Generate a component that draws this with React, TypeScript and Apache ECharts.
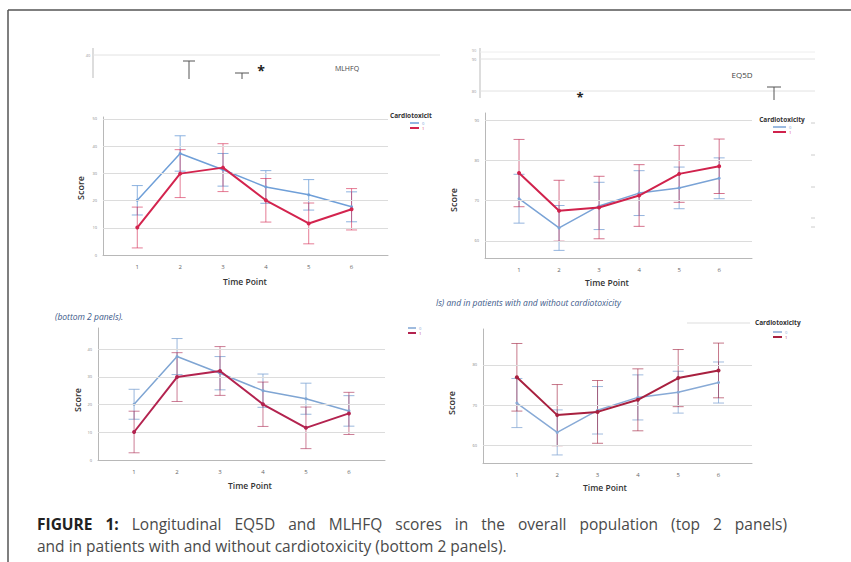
import React, { useEffect, useRef } from "react";
import * as echarts from "echarts";

const timePoints = [1, 2, 3, 4, 5, 6];
const groups = ["0", "1"];
const mlhfqNo = [20.1, 37.3, 31.3, 25.0, 22.1, 17.7];
const mlhfqNoErr = [5.4, 6.5, 6.0, 6.0, 5.6, 5.5];
const mlhfqYes = [10.1, 29.9, 32.1, 20.1, 11.6, 16.8];
const mlhfqYesErr = [7.5, 8.8, 8.8, 8.0, 7.5, 7.6];
const eq5dNo = [70.5, 63.2, 68.7, 71.9, 73.2, 75.6];
const eq5dNoErr = [6.1, 5.6, 5.9, 5.6, 5.2, 5.1];
const eq5dYes = [76.9, 67.5, 68.3, 71.3, 76.7, 78.6];
const eq5dYesErr = [8.4, 7.6, 7.8, 7.7, 7.1, 6.8];
const mlhfqTicks = [0, 10, 20, 30, 40, 50];
const eq5dTicks = [60, 70, 80, 90];

const captionBold = "FIGURE 1:";
const captionLine1 = "Longitudinal EQ5D and MLHFQ scores in the overall population (top 2 panels)";
const captionLine2 = "and in patients with and without cardiotoxicity (bottom 2 panels).";

const FONT = "'Open Sans', 'Noto Sans', sans-serif";
const CAP_SIZE = 15.5;

type Panel = {
  left: number; top: number; width: number; height: number;
  xMin: number; xMax: number; yMin: number; yMax: number;
  ticks: number[]; grid: number[];
  no: number[]; noErr: number[]; yes: number[]; yesErr: number[];
  blue: string; red: string; blueErr: string; redErr: string;
  capW: number;
};

const panels: Panel[] = [
  {
    left: 103, top: 117, width: 285, height: 138, xMin: 0.2, xMax: 6.85, yMin: 0, yMax: 50.7,
    ticks: mlhfqTicks, grid: [10, 20, 30, 40, 50],
    no: mlhfqNo, noErr: mlhfqNoErr, yes: mlhfqYes, yesErr: mlhfqYesErr,
    blue: "#6f9fd8", red: "#d3244e", blueErr: "rgba(111,159,216,0.8)", redErr: "rgba(211,36,78,0.6)", capW: 11,
  },
  {
    left: 485, top: 113, width: 267, height: 145, xMin: 0.15, xMax: 6.82, yMin: 55.7, yMax: 91.9,
    ticks: eq5dTicks, grid: [60, 70, 80, 90],
    no: eq5dNo, noErr: eq5dNoErr, yes: eq5dYes, yesErr: eq5dYesErr,
    blue: "#7aa3d6", red: "#d0224c", blueErr: "rgba(122,163,214,0.8)", redErr: "rgba(190,40,80,0.65)", capW: 11,
  },
  {
    left: 98, top: 328, width: 287, height: 132, xMin: 0.16, xMax: 6.84, yMin: 0, yMax: 47.6,
    ticks: [0, 10, 20, 30, 40], grid: [10, 20, 30, 40],
    no: mlhfqNo, noErr: mlhfqNoErr, yes: mlhfqYes, yesErr: mlhfqYesErr,
    blue: "#7fa5d3", red: "#b3234f", blueErr: "rgba(127,165,211,0.8)", redErr: "rgba(170,40,80,0.6)", capW: 11,
  },
  {
    left: 483, top: 329, width: 269, height: 134, xMin: 0.16, xMax: 6.83, yMin: 55.6, yMax: 88.9,
    ticks: [60, 70, 80], grid: [60, 70, 80],
    no: eq5dNo, noErr: eq5dNoErr, yes: eq5dYes, yesErr: eq5dYesErr,
    blue: "#88aad6", red: "#a8203f", blueErr: "rgba(136,170,214,0.8)", redErr: "rgba(160,30,60,0.6)", capW: 11,
  },
];

function measure(t: string, weight: string): number {
  const c = document.createElement("canvas").getContext("2d");
  if (!c) return t.length * CAP_SIZE * 0.5;
  c.font = `${weight} ${CAP_SIZE}px 'Open Sans', 'Noto Sans', sans-serif`;
  return c.measureText(t).width;
}

function buildOption() {
  const grid: any[] = [];
  const xAxis: any[] = [];
  const yAxis: any[] = [];
  const series: any[] = [];
  panels.forEach((p, i) => {
    grid.push({ left: p.left, top: p.top, width: p.width, height: p.height, containLabel: false });
    xAxis.push({
      type: "value", gridIndex: i, min: p.xMin, max: p.xMax,
      axisLine: { show: true, lineStyle: { color: "#b8b8b8", width: 1 } },
      axisTick: { show: false }, splitLine: { show: false },
      axisLabel: { customValues: timePoints, fontSize: 6, color: "#666", margin: 9, fontFamily: FONT },
    });
    yAxis.push({
      type: "value", gridIndex: i, min: p.yMin, max: p.yMax,
      axisLine: { show: true, lineStyle: { color: "#b8b8b8", width: 1 } },
      axisTick: { show: false }, splitLine: { show: false },
      axisLabel: { customValues: p.ticks, fontSize: 4, color: "#888", margin: 6, fontFamily: FONT },
    });
    const errSeries = (vals: number[], errs: number[], color: string, z: number) => ({
      type: "custom", xAxisIndex: i, yAxisIndex: i, z,
      data: timePoints.map((t, k) => [t, vals[k] - errs[k], vals[k] + errs[k]]),
      encode: { x: 0, y: [1, 2] },
      renderItem: (params: any, api: any) => {
        const x = api.value(0);
        const lo = api.coord([x, api.value(1)]);
        const hi = api.coord([x, api.value(2)]);
        const w = p.capW / 2;
        const style = { stroke: color, lineWidth: 1 };
        return {
          type: "group",
          children: [
            { type: "line", shape: { x1: lo[0], y1: lo[1], x2: hi[0], y2: hi[1] }, style },
            { type: "line", shape: { x1: lo[0] - w, y1: lo[1], x2: lo[0] + w, y2: lo[1] }, style },
            { type: "line", shape: { x1: hi[0] - w, y1: hi[1], x2: hi[0] + w, y2: hi[1] }, style },
          ],
        };
      },
    });
    series.push({
      type: "line", xAxisIndex: i, yAxisIndex: i, z: 1, data: [], silent: true,
      markLine: {
        silent: true, symbol: "none", label: { show: false },
        lineStyle: { color: "#dcdcdc", type: "solid", width: 1 },
        data: p.grid.map((v) => ({ yAxis: v })),
      },
    });
    series.push(errSeries(p.no, p.noErr, p.blueErr, 3));
    series.push(errSeries(p.yes, p.yesErr, p.redErr, 3));
    series.push({
      type: "line", name: groups[0], xAxisIndex: i, yAxisIndex: i, z: 4,
      data: timePoints.map((t, k) => [t, p.no[k]]),
      symbol: "circle", symbolSize: 3, itemStyle: { color: p.blue },
      lineStyle: { color: p.blue, width: 1.5 },
    });
    series.push({
      type: "line", name: groups[1], xAxisIndex: i, yAxisIndex: i, z: 5,
      data: timePoints.map((t, k) => [t, p.yes[k]]),
      symbol: "circle", symbolSize: 4, itemStyle: { color: p.red },
      lineStyle: { color: p.red, width: 2 },
    });
  });

  const line = (x1: number, y1: number, x2: number, y2: number, stroke = "#ddd", lineWidth = 1) => ({
    type: "line", shape: { x1, y1, x2, y2 }, style: { stroke, lineWidth }, silent: true,
  });
  const text = (x: number, y: number, t: string, extra: any = {}, rotation = 0) => ({
    type: "text", x, y, rotation, silent: true,
    style: {
      text: t, fill: extra.fill || "#333", fontSize: extra.fontSize || 9,
      fontFamily: extra.fontFamily || FONT, fontWeight: extra.fontWeight || "normal",
      fontStyle: extra.fontStyle || "normal",
      align: extra.align || "center", verticalAlign: extra.verticalAlign || "middle",
    },
  });
  const legendItem = (x: number, y: number, color: string, label: string, w: number, lw: number) => [
    line(x, y, x + w, y, color, lw),
    text(x + w + 3, y, label, { fontSize: 4, align: "left", fill: color }),
  ];

  // justified first caption line
  const words = [
    ...captionBold.split(" ").map((w) => ({ w, bold: true })),
    ...captionLine1.split(" ").map((w) => ({ w, bold: false })),
  ];
  const widths = words.map((o) => measure(o.w, o.bold ? "bold" : "normal"));
  const total = widths.reduce((a, b) => a + b, 0);
  const xStart = 37, xEnd = 787;
  const gap = Math.max(4, (xEnd - xStart - total) / (words.length - 1));
  let cx = xStart;
  const captionWords: any[] = words.map((o, k) => {
    const el = text(cx, 524, o.w, {
      fontSize: CAP_SIZE, align: "left", fontWeight: o.bold ? "bold" : "normal",
      fill: o.bold ? "#222" : "#4a4a4a",
    });
    cx += widths[k] + gap;
    return el;
  });

  const graphic: any[] = [
    // frame
    line(8, 10, 851, 10, "#555", 1.5),
    line(8, 10, 8, 562, "#555", 1.5),
    // top-left fragment strip
    line(93, 48, 93, 78, "#bbb"),
    line(93, 55, 440, 55, "#e2e2e2"),
    text(88, 55, "40", { fontSize: 4, fill: "#999" }),
    line(183, 61, 195, 61, "#555"),
    line(189, 61, 189, 79, "#555"),
    line(235, 73, 249, 73, "#555"),
    line(242, 73, 242, 79, "#555"),
    text(261, 70, "*", { fontSize: 14, fontWeight: "bold", fill: "#222" }),
    text(347, 68, "MLHFQ", { fontSize: 7, fill: "#444" }),
    // top-right fragment strip
    line(480, 48, 480, 98, "#bbb"),
    line(480, 52, 815, 52, "#eee"),
    line(480, 59, 815, 59, "#e2e2e2"),
    line(480, 91, 815, 91, "#e2e2e2"),
    text(474, 50, "90", { fontSize: 4, fill: "#aaa" }),
    text(474, 59, "90", { fontSize: 4, fill: "#999" }),
    text(474, 91, "80", { fontSize: 4, fill: "#999" }),
    text(742, 74, "EQ5D", { fontSize: 8, fill: "#444" }),
    line(767, 87, 781, 87, "#555"),
    line(774, 87, 774, 100, "#555"),
    text(580, 97, "*", { fontSize: 13, fontWeight: "bold", fill: "#222" }),
    // right edge dashes
    line(811, 123, 815, 123, "#ccc"),
    line(811, 155, 815, 155, "#ccc"),
    line(811, 187, 815, 187, "#ccc"),
    line(811, 218, 815, 218, "#ccc"),
    line(811, 227, 815, 227, "#ccc"),
    // axis titles
    text(80, 188, "Score", { fontSize: 9, fontWeight: 600 }, Math.PI / 2),
    text(245, 281, "Time Point", { fontSize: 8.5, fontWeight: 600 }),
    text(453, 200, "Score", { fontSize: 9, fontWeight: 600 }, Math.PI / 2),
    text(607, 282, "Time Point", { fontSize: 8.5, fontWeight: 600 }),
    text(77, 400, "Score", { fontSize: 9, fontWeight: 600 }, Math.PI / 2),
    text(250, 485, "Time Point", { fontSize: 8.5, fontWeight: 600 }),
    text(451, 403, "Score", { fontSize: 9, fontWeight: 600 }, Math.PI / 2),
    text(605, 487, "Time Point", { fontSize: 8.5, fontWeight: 600 }),
    // legends
    text(390, 115, "Cardiotoxicit", { fontSize: 6.5, fontWeight: "bold", align: "left" }),
    ...legendItem(410, 123, "#6f9fd8", groups[0], 9, 1.5),
    ...legendItem(410, 128, "#d3244e", groups[1], 9, 2),
    text(782, 119, "Cardiotoxicity", { fontSize: 6.5, fontWeight: "bold" }),
    ...legendItem(773, 127, "#7aa3d6", groups[0], 13, 1.5),
    ...legendItem(773, 132, "#d0224c", groups[1], 13, 2),
    line(687, 323, 750, 323, "#ddd"),
    text(755, 322, "Cardiotoxicity", { fontSize: 6.5, fontWeight: "bold", align: "left" }),
    ...legendItem(773, 332, "#88aad6", groups[0], 9, 1.5),
    ...legendItem(773, 337, "#a8203f", groups[1], 9, 2),
    ...legendItem(408, 328, "#7fa5d3", groups[0], 8, 1.5),
    ...legendItem(408, 333, "#b3234f", groups[1], 8, 2),
    // italic fragments
    text(55, 316, "(bottom 2 panels).", { fontSize: 8.5, fontStyle: "italic", fill: "#3d5a8a", align: "left" }),
    text(436, 302, "ls) and in patients with and without cardiotoxicity", { fontSize: 8.5, fontStyle: "italic", fill: "#3d5a8a", align: "left" }),
    // caption
    ...captionWords,
    text(37, 546, captionLine2, { fontSize: CAP_SIZE, fill: "#4a4a4a", align: "left" }),
  ];

  return { animation: false, backgroundColor: "#fff", grid, xAxis, yAxis, series, graphic };
}

export default function App() {
  const ref = useRef<HTMLDivElement>(null);
  useEffect(() => {
    if (!ref.current) return;
    const chart = echarts.init(ref.current, undefined, { renderer: "svg" });
    chart.setOption(buildOption() as any);
    return () => chart.dispose();
  }, []);
  return <div ref={ref} style={{ position: "fixed", left: 0, top: 0, width: 851, height: 562, background: "#fff" }} />;
}
